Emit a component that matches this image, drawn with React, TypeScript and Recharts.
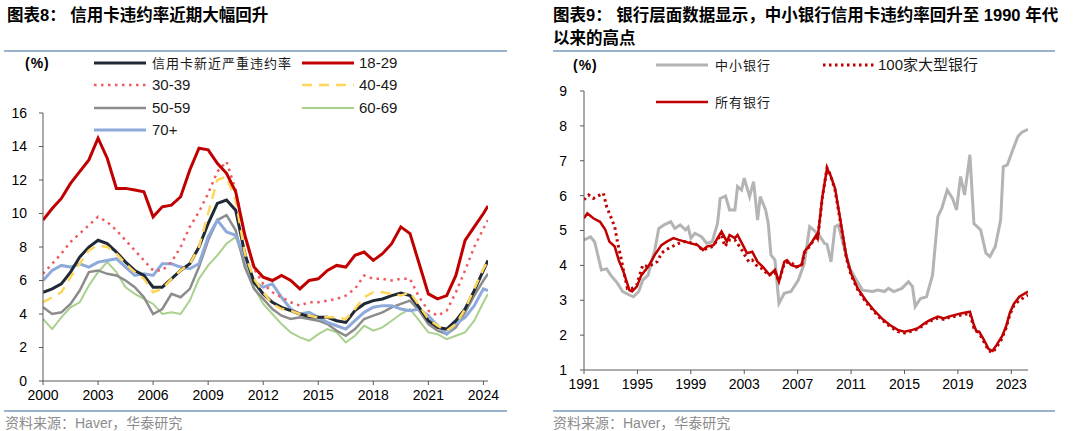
import React from "react";
import { LineChart, Line, XAxis, YAxis } from "recharts";

const NUM_FONT = "'Liberation Sans', Arial, sans-serif";
const MIX_FONT = "'Liberation Sans', 'Noto Sans CJK SC', sans-serif";
const CJK_FONT = "'Noto Sans CJK SC', sans-serif";
const AXIS = "#595959";
const RULE = "#9bb2cf";

// ---- 图表8: credit card serious delinquency by age (half-year readings) ----
const ageYears = [
  2000, 2000.5, 2001, 2001.5, 2002, 2002.5, 2003, 2003.5, 2004, 2004.5,
  2005, 2005.5, 2006, 2006.5, 2007, 2007.5, 2008, 2008.5, 2009, 2009.5,
  2010, 2010.5, 2011, 2011.5, 2012, 2012.5, 2013, 2013.5, 2014, 2014.5,
  2015, 2015.5, 2016, 2016.5, 2017, 2017.5, 2018, 2018.5, 2019, 2019.5,
  2020, 2020.5, 2021, 2021.5, 2022, 2022.5, 2023, 2023.5, 2024, 2024.25,
];
const totalRate = [
  5.3, 5.5, 5.8, 6.5, 7.4, 8.0, 8.4, 8.2, 7.7, 7.1,
  6.6, 6.3, 5.6, 5.6, 6.1, 6.6, 7.0, 8.0, 9.4, 10.6,
  10.8, 10.2, 7.6, 5.9, 5.2, 4.7, 4.4, 4.2, 4.0, 3.85,
  3.8, 3.8, 3.6, 3.5, 4.2, 4.6, 4.8, 4.9, 5.1, 5.25,
  5.1, 4.4, 3.6, 3.2, 3.1, 3.6, 4.3, 5.4, 6.6, 7.2,
];
const age18to29 = [
  9.6, 10.3, 10.9, 11.8, 12.5, 13.2, 14.5, 13.3, 11.5, 11.5,
  11.4, 11.3, 9.8, 10.4, 10.5, 11.0, 12.6, 13.9, 13.8, 13.0,
  12.4, 11.3, 8.7, 6.8, 6.2, 6.0, 6.3, 6.0, 5.5, 6.0,
  6.1, 6.6, 6.9, 6.8, 7.5, 7.7, 7.2, 7.6, 8.2, 9.2,
  8.8, 7.0, 5.2, 4.9, 5.1, 6.3, 8.4, 9.2, 10.0, 10.45,
];
const age30to39 = [
  6.4, 7.0, 7.6, 8.3, 8.8, 9.3, 9.8, 9.5, 9.0, 8.4,
  7.8, 7.2, 6.6, 6.6, 7.1, 8.0, 9.2, 10.1, 11.2, 12.5,
  13.1, 11.4, 8.6, 6.7, 5.8, 5.3, 5.0, 4.7, 4.5, 4.7,
  4.7, 4.8, 4.9, 5.1, 5.5, 6.3, 6.1, 6.1, 6.0, 6.1,
  6.1, 5.0, 4.2, 3.9, 4.2, 5.3, 6.6, 8.0, 9.1, 9.6,
];
const age40to49 = [
  4.7, 5.0, 5.3, 6.2, 7.0, 7.8, 8.1, 8.0, 7.6, 7.0,
  6.5, 6.1, 5.3, 5.5, 6.1, 6.6, 7.0, 8.0, 10.0, 12.0,
  12.2, 10.8, 7.6, 6.1, 5.3, 4.6, 4.3, 4.2, 4.0, 3.9,
  3.8, 3.8, 3.8, 3.7, 4.3, 5.0, 5.3, 5.3, 5.2, 5.1,
  5.3, 4.5, 3.7, 3.3, 3.0, 3.4, 4.3, 5.5, 6.7, 7.2,
];
const age50to59 = [
  4.4, 4.0, 4.1, 4.6, 5.4, 6.5, 6.6, 6.4, 6.3, 6.0,
  5.6, 5.0, 4.0, 4.3, 5.2, 5.0, 5.5, 6.8, 8.4, 9.6,
  9.9, 9.0, 6.8, 5.5, 4.9, 4.3, 3.9, 3.7, 3.8, 3.7,
  3.6, 3.4, 3.0, 2.7, 3.1, 3.7, 3.9, 4.1, 4.4, 4.6,
  4.8, 4.2, 3.4, 3.0, 2.8, 3.2, 4.1, 5.1, 6.0, 6.4,
];
const age60to69 = [
  3.7, 3.1, 3.8, 4.4, 4.7, 5.7, 6.5, 7.1, 6.5, 5.6,
  5.2, 4.9, 4.6, 4.0, 4.1, 4.0, 4.8, 6.1, 6.9, 7.5,
  8.2, 8.6, 7.0, 5.6, 4.6, 4.0, 3.4, 2.9, 2.6, 2.4,
  2.8, 3.1, 2.9, 2.3, 2.7, 3.3, 3.0, 3.2, 3.6, 4.0,
  4.3, 3.6, 2.9, 2.8, 2.5, 2.7, 2.9, 3.6, 4.7, 5.2,
];
const age70plus = [
  6.0, 6.6, 6.9, 6.8, 7.0, 6.8, 7.1, 7.2, 7.3, 6.8,
  6.3, 6.4, 6.3, 7.0, 7.0, 6.8, 6.7, 7.0, 8.6, 9.6,
  8.9, 8.7, 7.4, 5.9, 5.6, 5.8, 5.0, 4.3, 4.0, 4.1,
  3.8, 3.5, 3.3, 3.1, 3.6, 4.1, 4.4, 4.5, 4.5, 4.3,
  4.2, 4.3, 3.9, 3.3, 2.8, 3.4, 3.8, 4.5, 5.5, 5.4,
];
const leftTicks = [2000, 2003, 2006, 2009, 2012, 2015, 2018, 2021, 2024];
const leftYTicks = [0, 2, 4, 6, 8, 10, 12, 14, 16];

// ---- 图表9: bank delinquency rates (readings at their own dates) ----
const smallYears = [
  1991.0, 1991.5, 1991.8, 1992.3, 1992.7, 1993.0, 1993.5, 1993.9, 1994.4, 1994.7,
  1995.1, 1995.4, 1995.8, 1996.3, 1996.6, 1997.0, 1997.5, 1997.8, 1998.2, 1998.6,
  1998.8, 1999.0, 1999.3, 1999.8, 2000.2, 2000.6, 2001.0, 2001.2, 2001.6, 2001.9,
  2002.3, 2002.5, 2002.8, 2003.0, 2003.4, 2003.7, 2004.0, 2004.2, 2004.6, 2004.8,
  2005.0, 2005.3, 2005.6, 2006.0, 2006.5, 2007.05, 2007.5, 2007.9, 2008.25, 2008.6,
  2009.0, 2009.2, 2009.5, 2009.8, 2010.05, 2010.4, 2010.9, 2011.4, 2011.85, 2012.6,
  2013.0, 2013.5, 2013.8, 2014.2, 2014.8, 2015.3, 2015.6, 2015.8, 2016.2, 2016.65,
  2017.1, 2017.5, 2017.8, 2018.2, 2018.6, 2018.9, 2019.2, 2019.5, 2019.9, 2020.2,
  2020.7, 2021.1, 2021.4, 2021.8, 2022.2, 2022.4, 2022.7, 2023.1, 2023.5, 2023.8,
  2024.25,
];
const smallRates = [
  4.73, 4.82, 4.67, 3.87, 3.9, 3.72, 3.49, 3.25, 3.15, 3.1,
  3.25, 3.58, 3.72, 4.44, 5.06, 5.16, 5.25, 5.06, 5.16, 5.02,
  5.1, 4.78, 4.92, 4.82, 4.63, 4.68, 5.2, 5.92, 5.99, 5.59,
  5.59, 6.26, 6.16, 6.5, 5.97, 6.4, 5.3, 5.97, 5.59, 5.2,
  4.3, 4.15, 2.91, 3.2, 3.25, 3.58, 4.06, 5.11, 5.0, 4.87,
  4.63, 4.6, 4.1, 5.11, 5.16, 4.63, 3.92, 3.58, 3.29, 3.25,
  3.29, 3.25, 3.34, 3.25, 3.34, 3.53, 3.39, 2.82, 3.05, 3.1,
  3.72, 5.4, 5.64, 6.16, 5.92, 5.59, 6.55, 6.02, 7.17, 5.2,
  5.02, 4.35, 4.25, 4.54, 5.3, 6.83, 6.88, 7.3, 7.7, 7.82,
  7.9,
];
const largeYears = [
  1991.0, 1991.35, 1991.7, 1992.2, 1992.45, 1992.7, 1992.9, 1993.3, 1993.5, 1993.75,
  1994.0, 1994.25, 1994.6, 1994.95, 1995.4, 1995.8, 1996.5, 1996.8, 1997.1, 1997.6,
  1998.1, 1998.55, 1999.3, 1999.6, 1999.9, 2000.3, 2000.7, 2001.0, 2001.3, 2001.55,
  2001.9, 2002.3, 2002.75, 2003.1, 2003.35, 2003.6, 2004.0, 2004.4, 2004.8, 2005.3,
  2005.6, 2006.0, 2006.3, 2006.6, 2006.9, 2007.3, 2007.5, 2008.0, 2008.4, 2008.5,
  2008.85, 2009.2, 2009.45, 2009.8, 2010.2, 2010.65, 2011.0, 2011.5, 2012.1, 2012.7,
  2013.3, 2013.9, 2014.5, 2015.0, 2015.6, 2016.0, 2016.5, 2016.9, 2017.5, 2017.95,
  2018.3, 2018.8, 2019.3, 2019.9, 2020.2, 2020.6, 2020.96, 2021.3, 2021.6, 2021.9,
  2022.3, 2022.6, 2022.9, 2023.2, 2023.6, 2024.25,
];
const largeRates = [
  5.88, 6.02, 5.92, 6.02, 6.07, 5.68, 5.49, 5.11, 4.68, 4.25,
  3.77, 3.34, 3.34, 3.44, 4.01, 3.96, 4.11, 4.35, 4.44, 4.54,
  4.63, 4.68, 4.63, 4.54, 4.44, 4.5, 4.55, 4.75, 4.87, 4.54,
  4.73, 4.73, 4.49, 4.25, 4.1, 4.15, 3.96, 3.9, 3.72, 3.8,
  3.55, 4.05, 4.1, 4.05, 3.95, 4.0, 4.35, 4.6, 4.85, 4.75,
  5.95, 6.8, 6.6, 6.15, 5.25, 4.2, 3.72, 3.3, 2.95, 2.68,
  2.44, 2.25, 2.1, 2.06, 2.12, 2.17, 2.31, 2.4, 2.49, 2.45,
  2.5, 2.54, 2.58, 2.62, 2.2, 2.05, 1.8, 1.55, 1.5, 1.65,
  1.9, 2.2, 2.6, 2.85, 3.0, 3.15,
];
const allYears = [
  1991.0, 1991.25, 1991.7, 1992.2, 1992.6, 1992.9, 1993.3, 1993.6, 1994.0, 1994.4,
  1994.6, 1994.95, 1995.3, 1995.8, 1996.3, 1996.8, 1997.2, 1997.7, 1998.1, 1998.55,
  1999.0, 1999.5, 1999.9, 2000.2, 2000.7, 2001.0, 2001.3, 2001.7, 2001.9, 2002.3,
  2002.5, 2002.9, 2003.2, 2003.6, 2004.0, 2004.4, 2004.9, 2005.3, 2005.6, 2006.0,
  2006.2, 2006.5, 2006.9, 2007.3, 2007.5, 2008.0, 2008.4, 2008.5, 2008.85, 2009.2,
  2009.45, 2009.8, 2010.2, 2010.65, 2011.0, 2011.5, 2012.1, 2012.7, 2013.3, 2013.9,
  2014.5, 2015.0, 2015.6, 2016.0, 2016.5, 2016.9, 2017.5, 2017.95, 2018.3, 2018.8,
  2019.3, 2019.9, 2020.2, 2020.4, 2020.6, 2020.96, 2021.3, 2021.6, 2021.9, 2022.3,
  2022.6, 2022.9, 2023.2, 2023.6, 2024.25,
];
const allRates = [
  5.35, 5.49, 5.35, 5.25, 5.02, 4.68, 4.54, 4.15, 3.77, 3.29,
  3.25, 3.39, 3.72, 3.96, 4.3, 4.58, 4.68, 4.78, 4.73, 4.68,
  4.63, 4.58, 4.44, 4.54, 4.58, 4.78, 4.97, 4.68, 4.87, 4.78,
  4.87, 4.58, 4.35, 4.39, 4.1, 3.96, 3.72, 3.87, 3.53, 4.1,
  4.15, 4.01, 3.96, 4.01, 4.39, 4.63, 4.87, 4.78, 5.97, 6.78,
  6.59, 6.21, 5.3, 4.25, 3.77, 3.34, 3.0, 2.72, 2.48, 2.29,
  2.15, 2.1, 2.15, 2.2, 2.34, 2.43, 2.53, 2.48, 2.53, 2.58,
  2.63, 2.67, 2.29, 2.1, 2.1, 1.86, 1.6, 1.55, 1.72, 1.96,
  2.24, 2.65, 2.9, 3.1, 3.25,
];
const rightTicks = [1991, 1995, 1999, 2003, 2007, 2011, 2015, 2019, 2023];
const rightYTicks = [1, 2, 3, 4, 5, 6, 7, 8, 9];

const leftData = ageYears.map((x, i) => ({
  x,
  total: totalRate[i],
  a18: age18to29[i],
  a30: age30to39[i],
  a40: age40to49[i],
  a50: age50to59[i],
  a60: age60to69[i],
  a70: age70plus[i],
}));
const smallData = smallYears.map((x, i) => ({ x, v: smallRates[i] }));
const largeData = largeYears.map((x, i) => ({ x, v: largeRates[i] }));
const allData = allYears.map((x, i) => ({ x, v: allRates[i] }));

const tickStyle = { fill: "#000", fontSize: 14, fontFamily: NUM_FONT };

function LegendItem(props: {
  x: number;
  y: number;
  color: string;
  width: number;
  dash?: string;
  label: string;
  textX: number;
  cjk?: boolean;
}) {
  const { x, y, color, width, dash, label, textX, cjk } = props;
  return (
    <>
      <svg
        style={{ position: "absolute", left: x, top: y - 4 }}
        width={54}
        height={8}
      >
        <line
          x1={0}
          y1={4}
          x2={52}
          y2={4}
          stroke={color}
          strokeWidth={width}
          strokeDasharray={dash}
        />
      </svg>
      <div
        style={{
          position: "absolute",
          left: textX,
          top: y - 10,
          lineHeight: "20px",
          fontSize: cjk ? 13 : 15,
          letterSpacing: cjk ? 1 : 0,
          fontFamily: cjk ? CJK_FONT : MIX_FONT,
          color: "#1a1a1a",
          whiteSpace: "nowrap",
        }}
      >
        {label}
      </div>
    </>
  );
}

function Rule({ x, y, w }: { x: number; y: number; w: number }) {
  return (
    <div
      style={{
        position: "absolute",
        left: x,
        top: y,
        width: w,
        height: 2,
        background: RULE,
      }}
    />
  );
}

function Source({ x }: { x: number }) {
  return (
    <div
      style={{
        position: "absolute",
        left: x,
        top: 413,
        fontSize: 14,
        lineHeight: "20px",
        fontFamily: MIX_FONT,
        color: "#8c8c8c",
        whiteSpace: "nowrap",
      }}
    >
      资料来源：Haver，华泰研究
    </div>
  );
}

function Unit({ x, y }: { x: number; y: number }) {
  return (
    <div
      style={{
        position: "absolute",
        left: x,
        top: y - 10,
        lineHeight: "20px",
        fontSize: 14,
        fontWeight: "bold",
        fontFamily: MIX_FONT,
        letterSpacing: 1,
      }}
    >
      (%)
    </div>
  );
}

export default function App() {
  const titleStyle: React.CSSProperties = {
    position: "absolute",
    top: 4,
    fontSize: 16.5,
    fontWeight: "bold",
    lineHeight: "23px",
    fontFamily: MIX_FONT,
    color: "#000",
    whiteSpace: "nowrap",
  };

  return (
    <div
      style={{
        position: "absolute",
        left: 0,
        top: 0,
        width: 1080,
        height: 431,
        background: "#fff",
        overflow: "hidden",
      }}
    >
      <div style={{ ...titleStyle, left: 7 }}>图表8： 信用卡违约率近期大幅回升</div>
      <div style={{ ...titleStyle, left: 553 }}>
        图表9： 银行层面数据显示，中小银行信用卡违约率回升至 1990 年代
        <br />
        以来的高点
      </div>
      <Rule x={4} y={50} w={503} />
      <Rule x={553} y={50} w={502} />
      <Rule x={4} y={410} w={503} />
      <Rule x={553} y={410} w={502} />
      <Source x={5} />
      <Source x={553} />

      <div style={{ position: "absolute", left: 0, top: 0 }}>
        <LineChart
          width={540}
          height={410}
          data={leftData}
          margin={{ top: 113, right: 52, left: 0, bottom: 0 }}
        >
          <XAxis
            type="number"
            dataKey="x"
            domain={[2000, 2024.25]}
            ticks={leftTicks}
            interval={0}
            height={29}
            tick={tickStyle}
            tickSize={4}
            tickMargin={5}
            stroke={AXIS}
            allowDataOverflow
          />
          <YAxis
            domain={[0, 16]}
            ticks={leftYTicks}
            interval={0}
            width={43}
            tick={tickStyle}
            tickSize={4}
            tickMargin={12}
            stroke={AXIS}
          />
          <Line dataKey="a60" stroke="#a9d18e" strokeWidth={2} dot={false} activeDot={false} isAnimationActive={false} />
          <Line dataKey="a50" stroke="#8c8c8c" strokeWidth={2.5} dot={false} activeDot={false} isAnimationActive={false} />
          <Line dataKey="a70" stroke="#8eaadb" strokeWidth={3} dot={false} activeDot={false} isAnimationActive={false} />
          <Line dataKey="total" stroke="#1f2a36" strokeWidth={3} dot={false} activeDot={false} isAnimationActive={false} />
          <Line dataKey="a40" stroke="#ffd65c" strokeWidth={2.5} strokeDasharray="10 7" dot={false} activeDot={false} isAnimationActive={false} />
          <Line dataKey="a30" stroke="#ee5b63" strokeWidth={2.5} strokeDasharray="2.5 4.5" dot={false} activeDot={false} isAnimationActive={false} />
          <Line dataKey="a18" stroke="#c00000" strokeWidth={3} dot={false} activeDot={false} isAnimationActive={false} />
        </LineChart>
      </div>

      <div style={{ position: "absolute", left: 540, top: 0 }}>
        <LineChart
          width={540}
          height={410}
          margin={{ top: 91, right: 52, left: 0, bottom: 0 }}
        >
          <XAxis
            type="number"
            dataKey="x"
            domain={[1991, 2024.25]}
            ticks={rightTicks}
            interval={0}
            height={40}
            tick={tickStyle}
            tickSize={4}
            tickMargin={5}
            stroke={AXIS}
            allowDataOverflow
          />
          <YAxis
            domain={[1, 9]}
            ticks={rightYTicks}
            interval={0}
            width={44}
            tick={tickStyle}
            tickSize={4}
            tickMargin={13}
            stroke={AXIS}
          />
          <Line data={smallData} dataKey="v" stroke="#b4b4b4" strokeWidth={3} dot={false} activeDot={false} isAnimationActive={false} />
          <Line data={allData} dataKey="v" stroke="#c00000" strokeWidth={2.5} dot={false} activeDot={false} isAnimationActive={false} />
          <Line data={largeData} dataKey="v" stroke="#c00000" strokeWidth={3} strokeDasharray="2.5 3.5" dot={false} activeDot={false} isAnimationActive={false} />
        </LineChart>
      </div>

      {/* left legend */}
      <Unit x={25} y={63} />
      <LegendItem x={94} y={63} color="#1f2a36" width={3} label="信用卡新近严重违约率" textX={152} cjk />
      <LegendItem x={302} y={63} color="#c00000" width={3} label="18-29" textX={359} />
      <LegendItem x={94} y={85} color="#ee5b63" width={2.5} dash="2.5 4.5" label="30-39" textX={152} />
      <LegendItem x={302} y={85} color="#ffd65c" width={2.5} dash="10 7" label="40-49" textX={359} />
      <LegendItem x={94} y={108} color="#8c8c8c" width={2.5} label="50-59" textX={152} />
      <LegendItem x={302} y={108} color="#a9d18e" width={2} label="60-69" textX={359} />
      <LegendItem x={94} y={130} color="#8eaadb" width={3} label="70+" textX={152} />

      {/* right legend */}
      <Unit x={573} y={65} />
      <LegendItem x={656} y={65} color="#b4b4b4" width={3} label="中小银行" textX={715} cjk />
      <LegendItem x={823} y={65} color="#c00000" width={3} dash="2.5 3.5" label="100家大型银行" textX={878} />
      <LegendItem x={656} y={102} color="#c00000" width={2.5} label="所有银行" textX={715} cjk />
    </div>
  );
}
